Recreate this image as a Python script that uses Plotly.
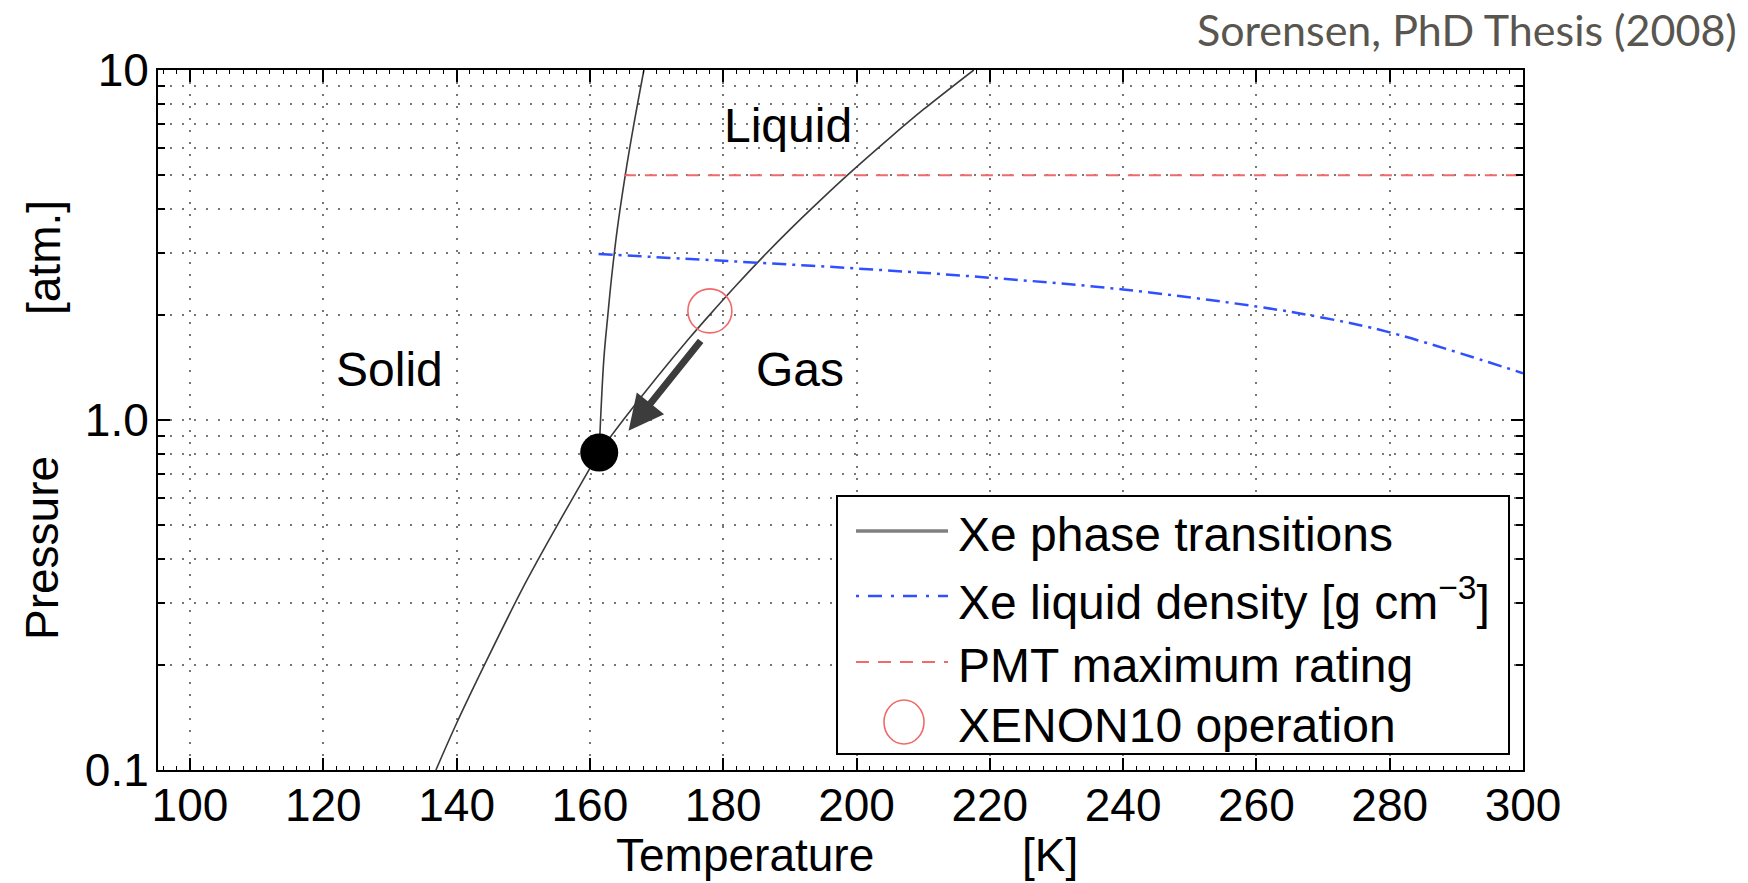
import numpy as np
import plotly.graph_objects as go

# ---------------- data ----------------
# Solid-gas (sublimation) curve
sub_T = [136.9, 140.0, 144.2, 150.0, 155.1, 161.4]
sub_P = [0.10, 0.136, 0.20, 0.333, 0.50, 0.81]
# Liquid-gas (vapour) curve
vap_T = [161.4, 165.0, 170.0, 175.0, 178.0, 182.0, 186.0, 190.0, 195.0, 198.6, 205.0, 210.0, 217.6]
vap_P = [0.81, 1.00, 1.32, 1.72, 2.00, 2.43, 2.93, 3.50, 4.32, 5.00, 6.40, 7.70, 10.0]
# Solid-liquid (melting) curve
melt_T = [161.4, 161.6, 162.1, 162.7, 163.2, 164.1, 165.3, 166.6, 168.1]
melt_P = [0.81, 1.00, 1.50, 2.00, 2.50, 3.50, 5.00, 7.00, 10.0]
# Liquid density [g cm^-3]
dens_T = [161.3, 180.0, 200.0, 220.0, 240.0, 260.0, 270.0, 280.0, 300.0]
dens_V = [2.98, 2.85, 2.71, 2.55, 2.36, 2.11, 1.96, 1.78, 1.36]
# PMT maximum rating
pmt_T = [165.1, 300.0]
pmt_P = [5.0, 5.0]
# XENON10 operating point and triple point
op_T, op_P = [178.0], [2.05]
tp_T, tp_P = [161.4], [0.807]
# Arrow (from operating point towards the triple point)
arrow_from = (176.8, 1.70)
arrow_to = (165.8, 0.932)

x_ticks = [100, 120, 140, 160, 180, 200, 220, 240, 260, 280, 300]
y_ticks = [0.1, 1.0, 10.0]
y_ticktext = ["0.1", "1.0", "10"]
y_minor = [0.2, 0.3, 0.4, 0.5, 0.6, 0.7, 0.8, 0.9, 2, 3, 4, 5, 6, 7, 8, 9]

region_labels = ["Solid", "Liquid", "Gas"]
region_T = [130.0, 189.7, 191.5]
region_P = [1.39, 6.92, 1.39]

legend_labels = ["Xe phase transitions",
                 "Xe liquid density [g cm<sup>−3</sup>]",
                 "PMT maximum rating",
                 "XENON10 operation"]

# ---------------- layout geometry ----------------
W, H = 1748, 883
L, R, T, B = 158, 1523, 70, 770


def px(xp):
    return (xp - L) / (R - L)


def py(yp):
    return (B - yp) / (B - T)


FONT = "Liberation Sans, Arial, Helvetica, sans-serif"
LINE_COL = "#3a3a3a"
BLUE = "#3050ff"
RED = "#f06a6a"

fig = go.Figure()
fig.add_trace(go.Scatter(x=sub_T, y=sub_P, mode="lines", name="sublimation",
                         line=dict(color=LINE_COL, width=1.6, shape="spline"), showlegend=False))
fig.add_trace(go.Scatter(x=vap_T, y=vap_P, mode="lines", name="vaporization",
                         line=dict(color=LINE_COL, width=1.6, shape="spline"), showlegend=False))
fig.add_trace(go.Scatter(x=melt_T, y=melt_P, mode="lines", name="melting",
                         line=dict(color=LINE_COL, width=1.6, shape="spline"), showlegend=False))
fig.add_trace(go.Scatter(x=dens_T, y=dens_V, mode="lines", name="density",
                         line=dict(color=BLUE, width=2.5, dash="14px,6px,3px,6px", shape="spline"),
                         showlegend=False))
fig.add_trace(go.Scatter(x=pmt_T, y=pmt_P, mode="lines", name="PMT",
                         line=dict(color=RED, width=2, dash="12px,9px"), showlegend=False))
fig.add_trace(go.Scatter(x=op_T, y=op_P, mode="markers", name="XENON10",
                         marker=dict(size=44, color="rgba(0,0,0,0)",
                                     line=dict(color=RED, width=1.6)), showlegend=False))
fig.add_trace(go.Scatter(x=tp_T, y=tp_P, mode="markers", name="triple point",
                         marker=dict(size=38, color="black"), showlegend=False))

annotations = []
# arrow
annotations.append(dict(x=arrow_to[0], y=np.log10(arrow_to[1]), ax=arrow_from[0],
                        ay=np.log10(arrow_from[1]), xref="x", yref="y", axref="x", ayref="y",
                        showarrow=True, arrowhead=2, arrowsize=1.0, arrowwidth=7,
                        arrowcolor="#3c3c3c", text="", standoff=0, startstandoff=0))
# region labels
for lab, tx, pv in zip(region_labels, region_T, region_P):
    annotations.append(dict(x=tx, y=np.log10(pv), xref="x", yref="y", text=lab,
                            xanchor="center", yanchor="middle",
                            showarrow=False, font=dict(family=FONT, size=48, color="black")))
# axis titles
title_font = dict(family=FONT, size=46, color="black")
annotations += [
    dict(x=px(42), y=py(548), xref="paper", yref="paper", text="Pressure", textangle=-90,
         xanchor="center", yanchor="middle", showarrow=False, font=title_font),
    dict(x=px(44), y=py(258), xref="paper", yref="paper", text="[atm.]", textangle=-90,
         xanchor="center", yanchor="middle", showarrow=False, font=title_font),
    dict(x=px(745), y=py(855), xref="paper", yref="paper", text="Temperature",
         xanchor="center", yanchor="middle", showarrow=False, font=title_font),
    dict(x=px(1050), y=py(855), xref="paper", yref="paper", text="[K]",
         xanchor="center", yanchor="middle", showarrow=False, font=title_font),
    dict(x=px(1739), y=py(29), xref="paper", yref="paper", text="Sorensen, PhD Thesis (2008)",
         xanchor="right", yanchor="middle", showarrow=False,
         font=dict(family="Lato, Open Sans, sans-serif", size=43, color="#595650")),
]

# manual legend
shapes = [dict(type="rect", xref="paper", yref="paper", x0=px(837), x1=px(1509),
               y0=py(754), y1=py(496), line=dict(color="black", width=2),
               fillcolor="white", layer="above")]
row_y = [531, 596, 662, 722]
sx0, sx1 = px(856), px(948)
shapes.append(dict(type="line", xref="paper", yref="paper", x0=sx0, x1=sx1,
                   y0=py(row_y[0]), y1=py(row_y[0]), line=dict(color="#808080", width=3.5),
                   layer="above"))
shapes.append(dict(type="line", xref="paper", yref="paper", x0=sx0, x1=sx1,
                   y0=py(row_y[1]), y1=py(row_y[1]),
                   line=dict(color=BLUE, width=2.5, dash="3px,9px,14px,9px"), layer="above"))
shapes.append(dict(type="line", xref="paper", yref="paper", x0=sx0, x1=sx1,
                   y0=py(row_y[2]), y1=py(row_y[2]),
                   line=dict(color=RED, width=2, dash="13px,9px"), layer="above"))
shapes.append(dict(type="circle", xref="paper", yref="paper", xsizemode="pixel",
                   ysizemode="pixel", xanchor=px(904), yanchor=py(row_y[3]),
                   x0=-20, x1=20, y0=-22, y1=22, line=dict(color=RED, width=1.6),
                   layer="above"))
for lab, ry in zip(legend_labels, row_y):
    annotations.append(dict(x=px(956), y=py(ry + 3), xref="paper", yref="paper", text=lab,
                            xanchor="left", yanchor="middle", showarrow=False,
                            font=dict(family=FONT, size=48, color="black")))

grid_dash = "2px,10px"
fig.update_layout(
    width=W, height=H,
    margin=dict(l=L, r=W - R, t=T, b=H - B, pad=0),
    paper_bgcolor="white", plot_bgcolor="white",
    showlegend=False,
    font=dict(family=FONT, size=46, color="black"),
    xaxis=dict(range=[95.2, 300], tickvals=x_ticks, ticks="inside", ticklen=12,
               tickwidth=1.5, tickcolor="black", showline=True, linecolor="black",
               linewidth=2, mirror="allticks", showgrid=True, gridcolor="#777777",
               gridwidth=1.5, griddash=grid_dash, zeroline=False,
               ticklabelstandoff=-6,
               tickfont=dict(family=FONT, size=46, color="black"),
               minor=dict(dtick=2, ticks="inside", ticklen=4, tickcolor="black",
                          tickwidth=1, showgrid=False)),
    yaxis=dict(type="log", range=[-1, 1], tickvals=y_ticks, ticktext=y_ticktext,
               ticks="inside", ticklen=12, tickwidth=1.5, tickcolor="black",
               showline=True, linecolor="black", linewidth=2, mirror="allticks",
               showgrid=True, gridcolor="#777777", gridwidth=1.5, griddash=grid_dash,
               zeroline=False, ticklabelstandoff=-2,
               tickfont=dict(family=FONT, size=46, color="black"),
               minor=dict(tickvals=y_minor, ticks="inside", ticklen=7, tickcolor="black",
                          tickwidth=1.5, showgrid=True, gridcolor="#777777",
                          gridwidth=1.5, griddash=grid_dash)),
    annotations=annotations,
    shapes=shapes,
)

fig.write_html("out.html")
